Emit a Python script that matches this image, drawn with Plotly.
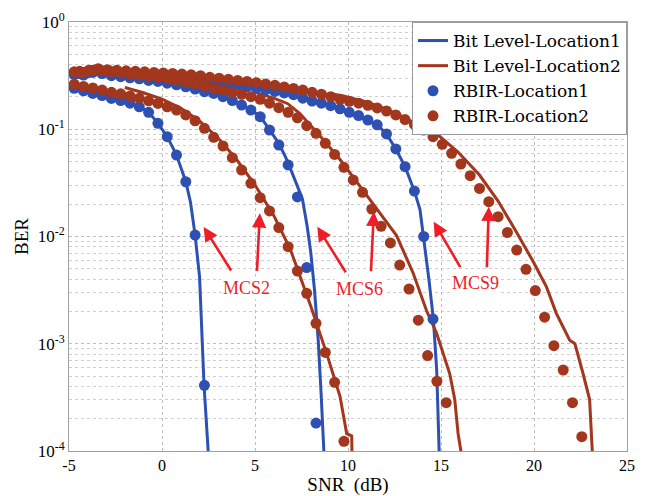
import plotly.graph_objects as go

# ---------------- data ----------------
# SNR grids (dB) on which the RBIR points were sampled
snr_a = [-4.72, -4.22, -3.72, -3.22, -2.72, -2.22, -1.72, -1.22, -0.72, -0.22,
         0.28, 0.78, 1.28, 1.78, 2.28, 2.78, 3.28, 3.78, 4.28, 4.78,
         5.28, 5.78, 6.28, 6.78, 7.28, 7.78, 8.28, 8.78, 9.28, 9.78,
         10.28, 10.78, 11.28, 11.78, 12.28, 12.78, 13.28, 13.78, 14.28, 14.78, 15.28]
snr_b = [-4.43, -3.93, -3.43, -2.93, -2.43, -1.93, -1.43, -0.93, -0.43, 0.07,
         0.57, 1.07, 1.57, 2.07, 2.57, 3.07, 3.57, 4.07, 4.57, 5.07,
         5.57, 6.07, 6.57, 7.07, 7.57, 8.07, 8.57, 9.07, 9.57, 10.07,
         10.57, 11.07, 11.57, 12.07, 12.57, 13.07, 13.57, 14.07, 14.57, 15.07,
         15.57, 16.07, 16.57, 17.07, 17.57, 18.07, 18.57, 19.07, 19.57, 20.07,
         20.57, 21.07, 21.57, 22.07, 22.57]

# RBIR (markers)
rbir_mcs2_loc1 = [0.241, 0.228, 0.216, 0.206, 0.194, 0.185, 0.175, 0.162, 0.144, 0.1135,
                  0.0853, 0.0575, 0.0324, 0.0103, 0.00041]
rbir_mcs2_loc2 = [0.263, 0.251, 0.243, 0.232, 0.221, 0.214, 0.204, 0.195, 0.184, 0.174,
                  0.162, 0.151, 0.136, 0.120, 0.102, 0.0841, 0.0698, 0.0543, 0.0417, 0.0313,
                  0.0230, 0.0173, 0.0121, 0.00804, 0.00476, 0.00295, 0.00155, 0.00083, 0.000437, 0.000123]
rbir_mcs6_loc1 = [0.324, 0.320, 0.339, 0.331, 0.316, 0.309, 0.302, 0.295, 0.285, 0.279,
                  0.269, 0.260, 0.249, 0.237, 0.224, 0.216, 0.201, 0.185, 0.168, 0.151,
                  0.131, 0.0984, 0.0713, 0.0465, 0.0234, 0.00513, 0.000182]
rbir_mcs6_loc2 = [0.343, 0.339, 0.355, 0.351, 0.343, 0.335, 0.327, 0.320, 0.313, 0.305,
                  0.295, 0.285, 0.275, 0.266, 0.254, 0.241, 0.232, 0.221, 0.212, 0.201,
                  0.190, 0.175, 0.159, 0.144, 0.128, 0.108, 0.0916, 0.0740, 0.0583, 0.0442,
                  0.0337, 0.0258, 0.0180, 0.01245, 0.00871, 0.00542, 0.00324, 0.00166, 0.000776, 0.000447,
                  0.000282]
rbir_mcs9_loc1 = [0.331, 0.339, 0.363, 0.351, 0.339, 0.335, 0.331, 0.324, 0.316, 0.309,
                  0.302, 0.295, 0.288, 0.283, 0.278, 0.272, 0.264, 0.259, 0.248, 0.241,
                  0.233, 0.225, 0.218, 0.210, 0.195, 0.183, 0.175, 0.166, 0.155, 0.144,
                  0.134, 0.122, 0.110, 0.0904, 0.0655, 0.0448, 0.0265, 0.0100, 0.0017]
rbir_mcs9_loc2 = [0.347, 0.355, 0.367, 0.359, 0.355, 0.351, 0.347, 0.343, 0.339, 0.335,
                  0.331, 0.327, 0.322, 0.316, 0.305, 0.299, 0.292, 0.285, 0.279, 0.272,
                  0.264, 0.257, 0.248, 0.240, 0.232, 0.221, 0.212, 0.201, 0.190, 0.182,
                  0.175, 0.167, 0.158, 0.148, 0.136, 0.123, 0.111, 0.0984, 0.0853, 0.0724,
                  0.0596, 0.0474, 0.0369, 0.0281, 0.0211, 0.0153, 0.0109, 0.00748, 0.00494, 0.00313,
                  0.00177, 0.000959, 0.000569, 0.000282, 0.000136]

# Bit level (lines)
bit_mcs2_loc1_x = [-4.72, -3.72, -2.72, -1.72, -1.22, -0.72, -0.22, 0.28, 0.78, 1.28, 1.53, 1.78, 2.02, 2.26, 2.5]
bit_mcs2_loc1_y = [0.241, 0.216, 0.194, 0.175, 0.162, 0.144, 0.114, 0.0853, 0.0575, 0.0324, 0.021, 0.0103, 0.0042, 0.00041, 0.00009]
bit_mcs2_loc2_x = [-2.0, -1.0, 0.0, 1.0, 2.0, 3.0, 4.0, 5.0, 6.0, 6.9, 8.0, 8.85, 9.57, 9.93, 10.2, 10.22]
bit_mcs2_loc2_y = [0.245, 0.219, 0.191, 0.158, 0.120, 0.0832, 0.0525, 0.0302, 0.0158, 0.00759, 0.00224, 0.000813,
                   0.000324, 0.000145, 0.000138, 0.00008]
bit_mcs6_loc1_x = [-4.72, -3.72, -2.72, -1.72, -0.72, 0.28, 1.28, 2.28, 3.28, 4.28, 4.78, 5.28, 5.78, 6.28,
                   6.75, 7.2, 7.55, 7.8, 8.0, 8.2, 8.4, 8.55, 8.71, 8.73]
bit_mcs6_loc1_y = [0.324, 0.335, 0.316, 0.302, 0.285, 0.269, 0.249, 0.224, 0.201, 0.168, 0.151, 0.132, 0.100, 0.0741,
                   0.0501, 0.0316, 0.0224, 0.0126, 0.00708, 0.00316, 0.00107, 0.000355, 0.0001, 0.0000794]
bit_mcs6_loc2_x = [5.0, 6.0, 6.74, 7.4, 8.49, 9.56, 10.64, 11.54, 12.61, 13.5, 14.22, 14.76, 15.47, 15.74, 15.92,
                   16.07, 16.09]
bit_mcs6_loc2_y = [0.221, 0.195, 0.174, 0.141, 0.0871, 0.0525, 0.0295, 0.0182, 0.0102, 0.00457, 0.00204, 0.00126,
                   0.000525, 0.000302, 0.000145, 0.0001, 0.0000794]
bit_mcs9_loc1_x = [-4.43, -2.43, -0.43, 1.57, 3.57, 5.57, 7.57, 9.57, 11.57, 12.07, 12.57, 13.07, 13.57, 13.87,
                   14.07, 14.35, 14.59, 14.77, 14.9, 14.92]
bit_mcs9_loc1_y = [0.331, 0.339, 0.316, 0.288, 0.264, 0.233, 0.195, 0.155, 0.110, 0.0904, 0.0655, 0.0448, 0.0265,
                   0.0178, 0.0100, 0.00398, 0.0017, 0.000562, 0.0001, 0.0000794]
bit_mcs9_loc2_x = [9.0, 9.75, 11.0, 12.0, 12.8, 13.9, 14.75, 15.9, 17.07, 18.07, 19.06, 19.96, 20.67, 21.2,
                   21.92, 22.2, 22.64, 22.99, 23.13, 23.15]
bit_mcs9_loc2_y = [0.216, 0.204, 0.180, 0.155, 0.135, 0.107, 0.0912, 0.0617, 0.0374, 0.0214, 0.01096, 0.00582,
                   0.00339, 0.00192, 0.00108, 0.001, 0.000525, 0.000302, 0.000102, 0.0000794]

x_ticks = [-5, 0, 5, 10, 15, 20, 25]
x_tick_labels = ["-5", "0", "5", "10", "15", "20", "25"]
y_ticks = [1e-4, 1e-3, 1e-2, 1e-1, 1]
y_tick_labels = ["10<sup>-4</sup>", "10<sup>-3</sup>", "10<sup>-2</sup>", "10<sup>-1</sup>", "10<sup>0</sup>"]
mcs_labels = ["MCS2", "MCS6", "MCS9"]

# ---------------- styling ----------------
BLUE = "#2d50b2"
BROWN = "#a2371d"
RED = "#ee1d27"
FONT = "Liberation Serif"
LEG_FONT = "DejaVu Serif"

fig = go.Figure()

line_sets = [
    (bit_mcs2_loc1_x, bit_mcs2_loc1_y, BLUE, "Bit Level-Location1", True),
    (bit_mcs6_loc1_x, bit_mcs6_loc1_y, BLUE, "Bit Level-Location1", False),
    (bit_mcs9_loc1_x, bit_mcs9_loc1_y, BLUE, "Bit Level-Location1", False),
    (bit_mcs2_loc2_x, bit_mcs2_loc2_y, BROWN, "Bit Level-Location2", True),
    (bit_mcs6_loc2_x, bit_mcs6_loc2_y, BROWN, "Bit Level-Location2", False),
    (bit_mcs9_loc2_x, bit_mcs9_loc2_y, BROWN, "Bit Level-Location2", False),
]
for x, y, c, name, show in line_sets:
    fig.add_trace(go.Scatter(x=x, y=y, mode="lines", name=name, legendgroup=name,
                             showlegend=show, line=dict(color=c, width=3)))

marker_sets = [
    (snr_a, rbir_mcs2_loc1, BLUE, "RBIR-Location1", True),
    (snr_a, rbir_mcs6_loc1, BLUE, "RBIR-Location1", False),
    (snr_b, rbir_mcs9_loc1, BLUE, "RBIR-Location1", False),
    (snr_a, rbir_mcs2_loc2, BROWN, "RBIR-Location2", True),
    (snr_a, rbir_mcs6_loc2, BROWN, "RBIR-Location2", False),
    (snr_b, rbir_mcs9_loc2, BROWN, "RBIR-Location2", False),
]
for x, y, c, name, show in marker_sets:
    fig.add_trace(go.Scatter(x=x[:len(y)], y=y, mode="markers", name=name, legendgroup=name,
                             showlegend=show, marker=dict(color=c, size=11, line=dict(width=0))))

# arrows: (head x, head log10 y, tail dx px, tail dy px)
arrows = [(2.24, -1.911, 29, 46), (5.26, -1.784, -3, 60),
          (8.35, -1.909, 30, 48), (11.39, -1.769, -3, 62),
          (14.61, -1.862, 28, 48), (17.57, -1.722, -2, 63)]
for hx, hy, ax, ay in arrows:
    fig.add_annotation(x=hx, y=hy, ax=ax, ay=ay, axref="pixel", ayref="pixel", text=" ",
                       font=dict(size=2), showarrow=True, arrowhead=2, arrowsize=1.1,
                       arrowwidth=2.6, arrowcolor=RED)
label_pos = [(4.55, -2.48), (10.6, -2.49), (16.85, -2.43)]
for (lx, ly), t in zip(label_pos, mcs_labels):
    fig.add_annotation(x=lx, y=ly, text=t, showarrow=False,
                       font=dict(family=FONT, size=18, color=RED), bgcolor="white")

fig.update_layout(
    width=663, height=496,
    margin=dict(l=69, r=36, t=22, b=45),
    paper_bgcolor="white", plot_bgcolor="white",
    font=dict(family=FONT, color="black"),
    legend=dict(x=1, xanchor="right", y=1, yanchor="top", bgcolor="white",
                bordercolor="#9a9a9a", borderwidth=1, font=dict(family=LEG_FONT, size=17),
                tracegroupgap=0, itemwidth=30),
    showlegend=True,
)
fig.update_xaxes(range=[-5, 25], tickvals=x_ticks, ticktext=x_tick_labels,
                 tickfont=dict(family=FONT, size=16), showgrid=True, gridcolor="#bdbdbd",
                 griddash="dot", gridwidth=1, zeroline=False, showline=True, linecolor="#a0a0a0",
                 linewidth=1, mirror=True, ticks="",
                 title=dict(text="SNR\u00a0 (dB)", font=dict(family=FONT, size=19), standoff=0),
                 automargin=False)
minor_vals = [m * 10 ** e for e in range(-4, 0) for m in range(2, 10)]
fig.update_yaxes(type="log", range=[-4, 0], tickvals=y_ticks, ticktext=y_tick_labels,
                 tickfont=dict(family=FONT, size=17), showgrid=True, gridcolor="#bdbdbd",
                 griddash="dot", gridwidth=1, zeroline=False, showline=True, linecolor="#a0a0a0",
                 linewidth=1, mirror=True, ticks="",
                 minor=dict(tickvals=minor_vals, showgrid=True, gridcolor="#cfcfcf",
                            griddash="dot", gridwidth=1, ticks=""),
                 title=dict(text="BER", font=dict(family=FONT, size=19), standoff=4),
                 automargin=False)

fig.write_html("out.html", config={"displayModeBar": False},
               post_script="document.body.style.margin='0px';document.body.style.overflow='hidden';")
